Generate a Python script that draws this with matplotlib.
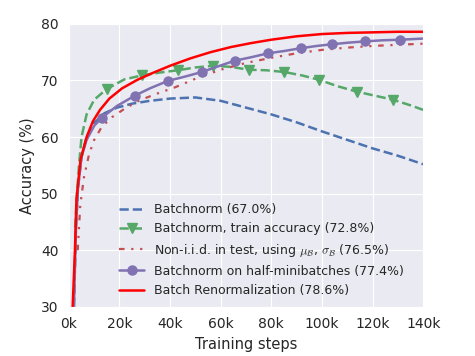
import numpy as np
import matplotlib
matplotlib.use('Agg')
import matplotlib.pyplot as plt
import seaborn as sns
from matplotlib.ticker import FuncFormatter

sns.set_style('darkgrid')
plt.rcParams['font.family'] = ['DejaVu Sans']
plt.rcParams['mathtext.fontset'] = 'cm'

# ---------------------------------------------- Data (steps in thousands)
bn_steps = [2, 2.8, 3.6, 5, 7, 10, 14, 19, 25, 32, 40, 50, 60, 70, 80, 90, 100, 110, 120, 130, 140]
bn_acc = [30, 44, 51, 56.5, 60, 62.5, 64.2, 65.2, 65.9, 66.4, 66.8, 67.0, 66.4, 65.2, 64.0, 62.6, 61.0, 59.5, 58.0, 56.7, 55.2]

train_steps = [2.5, 3.2, 4, 5, 7, 10, 15, 22, 29, 36, 43, 50, 57, 64, 71, 78, 85, 92, 99, 106, 114, 121, 128, 135, 140]
train_acc = [44, 50, 55, 60, 64, 66.6, 68.5, 70.2, 70.9, 71.4, 71.8, 72.3, 72.6, 72.4, 71.9, 71.8, 71.5, 70.9, 70.1, 69.0, 68.0, 67.3, 66.6, 65.6, 64.8]
train_mark = [15, 29, 43, 57, 71, 85, 99, 114, 128]

noniid_steps = [3.5, 4.5, 6, 8, 10, 13, 17, 22, 28, 35, 42, 50, 60, 70, 80, 90, 100, 110, 120, 130, 140]
noniid_acc = [40, 48, 53, 57, 59.5, 61.8, 63.5, 65, 66.5, 67.7, 68.8, 70.3, 71.9, 73.1, 74.0, 74.8, 75.4, 75.8, 76.1, 76.3, 76.5]

half_steps = [2, 2.8, 3.6, 5, 7, 10, 13, 19, 26, 32, 39, 46, 52.6, 59, 65.6, 72, 78.7, 85, 91.7, 98, 104, 111, 117, 124, 131, 140]
half_acc = [30, 44, 51, 56.5, 59.5, 62, 63.4, 65.5, 67.3, 68.6, 69.9, 70.7, 71.5, 72.5, 73.5, 74.1, 74.8, 75.2, 75.7, 76.1, 76.4, 76.7, 76.9, 77.1, 77.2, 77.4]
half_mark = [13, 26, 39, 52.6, 65.6, 78.7, 91.7, 104, 117, 131]

renorm_steps = [1.5, 2.4, 3, 4.6, 7, 9.5, 12.3, 16, 21, 27, 33, 40, 48, 56, 64, 72, 80, 90, 100, 110, 120, 130, 140]
renorm_acc = [30, 40, 49, 56, 60, 62.8, 64.8, 66.8, 68.6, 70.1, 71.3, 72.6, 73.9, 75.0, 75.9, 76.6, 77.2, 77.8, 78.2, 78.4, 78.5, 78.6, 78.6]

labels = ['Batchnorm (67.0%)',
          'Batchnorm, train accuracy (72.8%)',
          r'Non-i.i.d. in test, using $\mu_\mathcal{B}$, $\sigma_\mathcal{B}$ (76.5%)',
          'Batchnorm on half-minibatches (77.4%)',
          'Batch Renormalization (78.6%)']

# ---------------------------------------------- Plot
fig = plt.figure(figsize=(4.75, 3.56), dpi=100)
ax = fig.add_axes([0.145, 0.138, 0.746, 0.795])

ax.plot(bn_steps, bn_acc, '--', color='#4C72B0', lw=1.8, label=labels[0])
ax.plot(train_steps, train_acc, '--', color='#55A868', lw=1.8, marker='v', ms=6.5,
        markevery=[train_steps.index(s) for s in train_mark], label=labels[1])
ax.plot(noniid_steps, noniid_acc, color='#C44E52', lw=1.6, ls=(0, (2.5, 3, 1, 3, 1, 3)),
        label=labels[2])
ax.plot(half_steps, half_acc, '-', color='#8172B2', lw=1.8, marker='o', ms=6.5,
        markevery=[half_steps.index(s) for s in half_mark], label=labels[3])
ax.plot(renorm_steps, renorm_acc, '-', color='red', lw=1.8, label=labels[4])

ax.set_xlim(0, 140)
ax.set_ylim(30, 80)
ax.set_xticks(range(0, 141, 20))
ax.set_yticks(range(30, 81, 10))
ax.xaxis.set_major_formatter(FuncFormatter(lambda v, p: '%dk' % v))
ax.tick_params(labelsize=10, pad=4)
ax.set_xlabel('Training steps', fontsize=10.5)
ax.set_ylabel('Accuracy (%)', fontsize=10.5)

ax.legend(loc='lower left', bbox_to_anchor=(0.11, -0.005), frameon=False, fontsize=9,
          handlelength=2.0, handletextpad=0.8, labelspacing=0.5)

fig.savefig('out.png', dpi=100)
